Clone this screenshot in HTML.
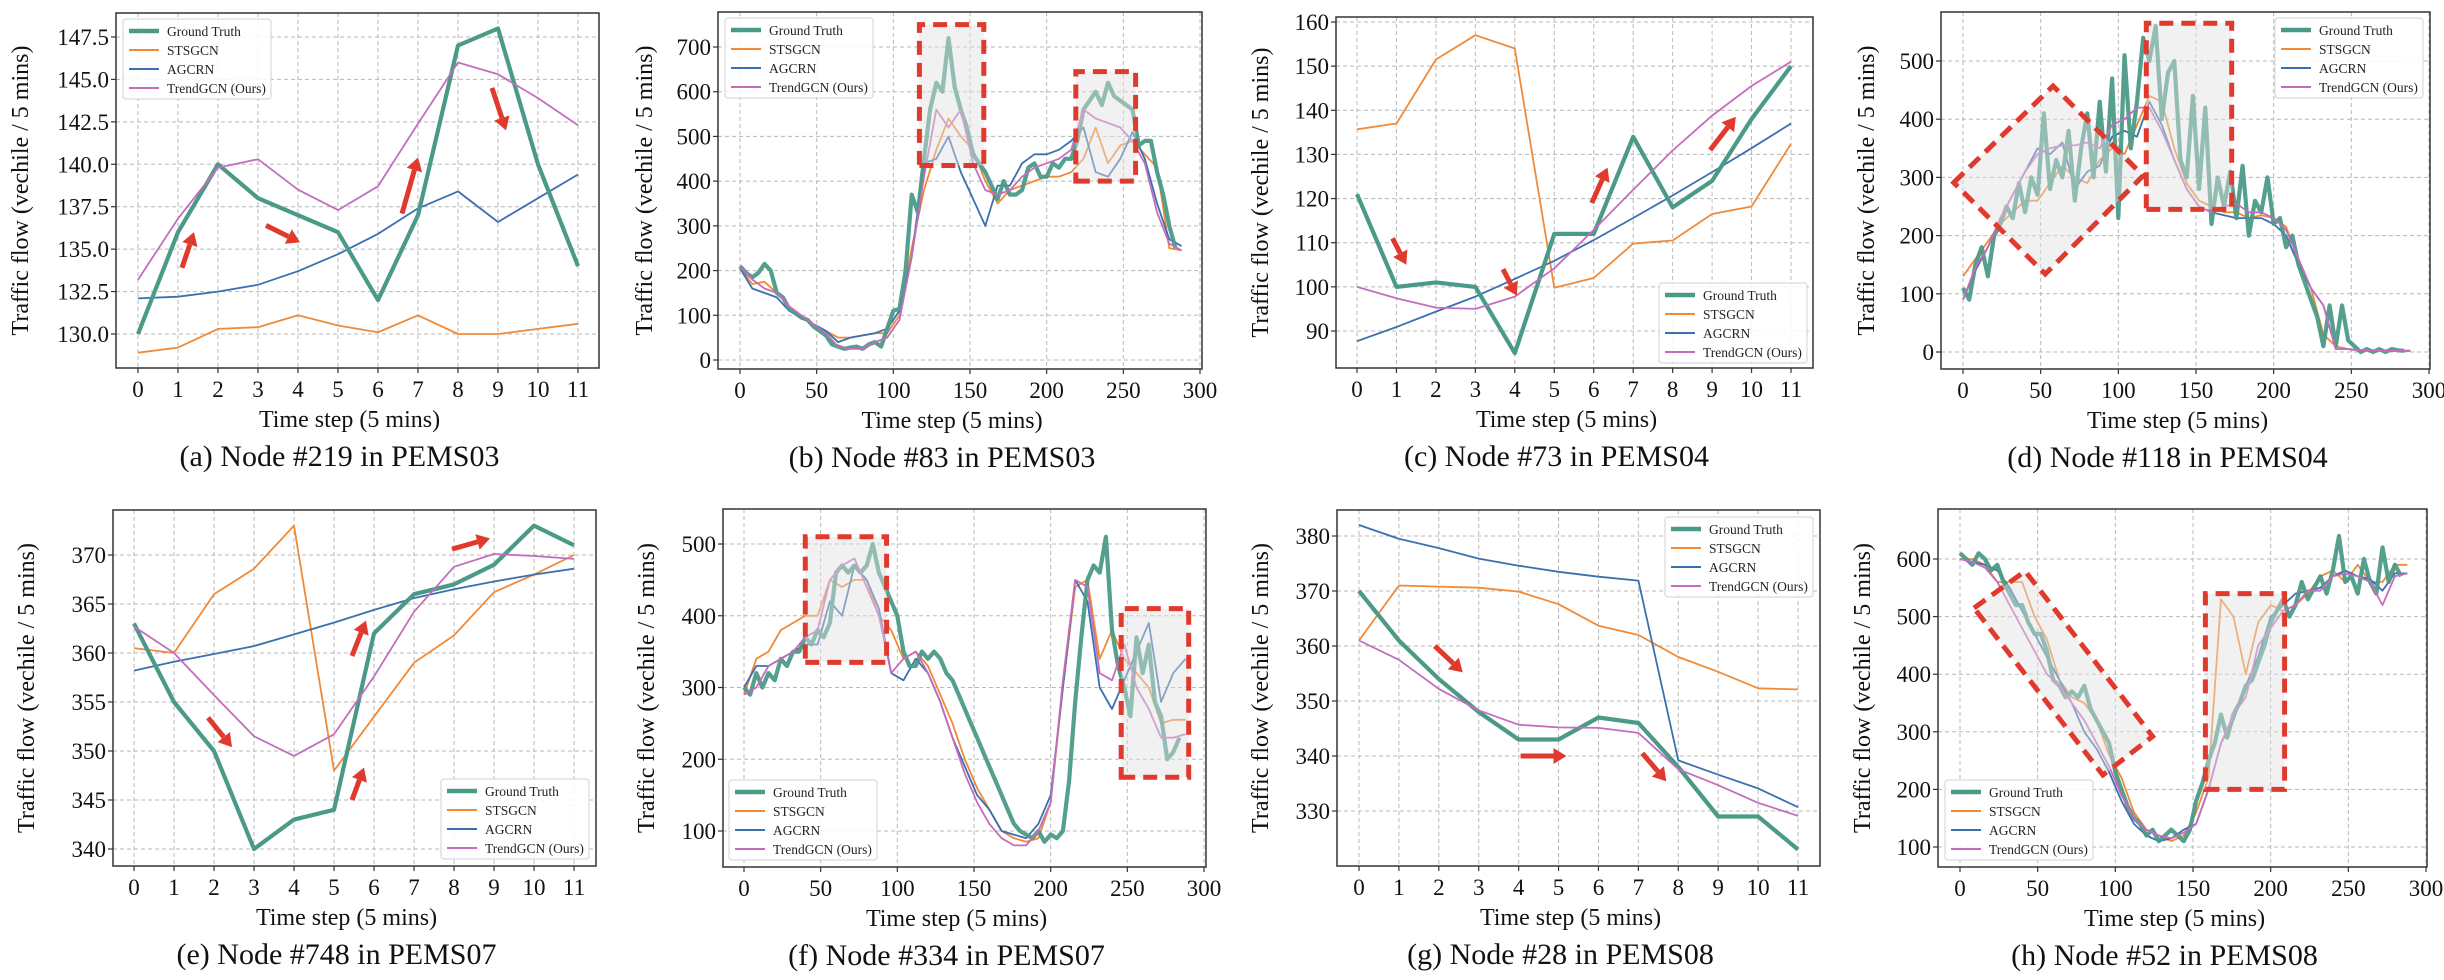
<!DOCTYPE html>
<html><head><meta charset="utf-8"><title>Traffic flow predictions</title>
<style>
html,body{margin:0;padding:0;background:#fff;}
svg{display:block;font-family:"Liberation Serif","DejaVu Serif",serif;}
</style></head>
<body>
<svg id="fig" width="2444" height="980" viewBox="0 0 2444 980" xmlns="http://www.w3.org/2000/svg"></svg>
<script>
// ---------- categories ----------
const steps12 = [0,1,2,3,4,5,6,7,8,9,10,11];
const step4 = Array.from({length:72},(_,i)=>i*4);
const step8 = Array.from({length:37},(_,i)=>i*8);

// ---------- (a) Node #219 PEMS03 ----------
const aGT = [130,136,140,138,137,136,132,137,147,148,140,134];
const aST = [128.9,129.2,130.3,130.4,131.1,130.5,130.1,131.1,130,130,130.3,130.6];
const aAG = [132.1,132.2,132.5,132.9,133.7,134.7,135.9,137.4,138.4,136.6,138,139.4];
const aTR = [133.2,136.8,139.8,140.3,138.5,137.3,138.7,142.4,146,145.3,143.9,142.3];
const aArrows = [[1.1,133.9,1.4,136.0],[3.2,136.4,4.05,135.4],[6.6,137.1,7.0,140.4],[8.85,144.5,9.2,142.0]];
const aYTicks = [130,132.5,135,137.5,140,142.5,145,147.5];

// ---------- (b) Node #83 PEMS03 ----------
const bGT = [210,195,185,195,215,200,150,140,115,105,95,90,75,65,55,35,30,25,28,30,25,35,40,30,70,110,115,200,370,330,450,560,620,600,720,610,560,520,460,440,420,390,360,400,370,370,380,430,440,410,410,440,430,450,450,490,560,580,600,570,620,590,580,570,560,480,490,490,420,370,300,250];
const bST = [205,170,175,150,120,100,80,65,50,50,55,60,60,100,250,380,470,540,500,470,400,350,380,390,400,410,410,420,450,520,440,480,490,460,430,250,245];
const bAG = [205,160,150,140,110,95,80,65,40,50,55,60,70,110,230,440,450,500,420,360,300,390,390,440,460,460,470,490,520,420,410,450,510,450,350,270,255];
const bTR = [210,180,160,150,120,100,80,60,30,25,25,40,50,90,230,410,560,520,560,440,380,370,380,410,430,440,450,470,560,540,530,520,490,440,330,260,245];
const bBoxes = [[[117,435],[159,435],[159,750],[117,750]],[[219,400],[258,400],[258,645],[219,645]]];
const bYTicks = [0,100,200,300,400,500,600,700];

// ---------- (c) Node #73 PEMS04 ----------
const cGT = [121,100,101,100,85,112,112,134,118,124,138,150];
const cST = [135.7,137,151.5,157,154,99.8,102,109.8,110.5,116.5,118.2,132.4];
const cAG = [87.7,90.9,94.4,97.8,101.8,105.9,110.6,115.6,120.7,126,131.4,137];
const cTR = [100,97.4,95.3,95,97.8,104.2,112.9,122,130.9,138.8,145.5,151];
const cArrows = [[0.9,111,1.25,105],[3.7,104,4.05,98],[5.95,119,6.35,127],[8.95,131,9.6,138.5]];
const cYTicks = [90,100,110,120,130,140,150,160];

// ---------- (d) Node #118 PEMS04 ----------
const dGT = [110,90,150,180,130,200,220,250,230,290,240,300,270,410,280,330,300,380,260,350,410,300,430,310,470,230,510,350,430,540,500,560,400,480,500,330,300,440,280,420,220,300,250,310,230,320,200,260,240,300,220,230,180,200,150,120,90,60,10,80,10,80,20,10,0,5,0,5,0,5,3,2];
const dST = [130,160,190,220,240,260,260,290,320,300,290,330,350,340,390,440,430,350,290,260,250,240,240,230,235,230,215,160,110,30,10,5,2,2,2,2,2];
const dAG = [90,140,180,230,270,310,350,340,360,280,310,320,370,380,370,430,390,330,280,250,240,235,230,230,230,220,200,150,110,80,5,5,3,3,2,2,2];
const dTR = [90,145,180,230,270,310,340,350,355,355,360,350,390,400,420,420,380,330,280,250,240,250,255,240,240,230,210,160,110,80,5,5,3,3,2,2,2];
const dBoxes = [[[-6,291],[58,457],[116,303],[53,134]],[[118,245],[173,245],[173,565],[118,565]]];
const dYTicks = [0,100,200,300,400,500];

// ---------- (e) Node #748 PEMS07 ----------
const eGT = [363,355,350,340,343,344,362,366,367,369,373,371];
const eST = [360.5,360,366,368.6,373,348,353.5,359,361.8,366.2,368,370];
const eAG = [358.2,359.1,359.9,360.7,361.9,363.1,364.4,365.6,366.5,367.3,368,368.6];
const eTR = [362.7,360,355.7,351.5,349.5,351.7,357.6,364.2,368.8,370.1,369.9,369.6];
const eArrows = [[1.85,353.4,2.45,350.4],[5.45,345,5.75,348.3],[5.45,359.7,5.8,363.3],[7.95,370.6,8.9,371.7]];
const eYTicks = [340,345,350,355,360,365,370];

// ---------- (f) Node #334 PEMS07 ----------
const fGT = [300,290,320,300,320,310,340,330,350,350,370,360,380,370,390,460,470,460,470,460,470,500,460,440,420,400,350,330,330,350,340,350,340,320,310,290,270,250,230,210,190,170,150,130,110,100,95,90,100,85,95,90,100,170,280,370,450,470,460,510,380,330,300,260,370,320,360,280,260,200,210,230];
const fST = [290,340,350,380,390,400,400,450,440,450,450,400,380,340,350,330,290,250,200,160,130,100,90,85,90,140,300,440,450,340,380,340,320,300,250,255,255];
const fAG = [300,330,330,340,350,360,360,420,400,470,450,410,320,310,340,320,280,230,190,150,130,100,95,90,110,150,300,450,420,300,270,310,350,390,280,320,340];
const fTR = [290,300,330,340,350,370,380,450,470,480,440,400,320,340,350,320,280,230,180,140,110,90,80,80,100,140,310,450,440,320,310,360,300,270,230,230,235];
const fBoxes = [[[40,335],[93,335],[93,510],[40,510]],[[246,175],[290,175],[290,410],[246,410]]];
const fYTicks = [100,200,300,400,500];

// ---------- (g) Node #28 PEMS08 ----------
const gGT = [370,361,354,348,343,343,347,346,338,329,329,323];
const gST = [361,371,370.8,370.6,369.9,367.6,363.7,362,358,355.3,352.3,352.1];
const gAG = [382,379.5,377.8,375.9,374.6,373.5,372.6,371.9,339.2,336.6,334.1,330.7];
const gTR = [361,357.5,352.2,348.3,345.7,345.2,345.1,344.2,337.6,334.7,331.5,329.1];
const gArrows = [[1.9,360,2.6,355.2],[4.05,340,5.2,340],[7.1,340.5,7.7,335.4]];
const gYTicks = [330,340,350,360,370,380];

// ---------- (h) Node #52 PEMS08 ----------
const hGT = [610,600,590,610,600,580,590,560,540,520,520,490,470,470,440,390,380,360,370,360,380,340,320,300,280,230,200,170,150,140,120,130,110,120,130,120,110,130,180,210,250,280,330,290,330,350,380,390,420,450,490,510,530,500,520,560,530,550,570,540,580,640,560,570,540,600,560,540,620,560,590,570];
const hST = [600,600,590,560,560,560,500,460,390,360,350,320,260,220,160,130,120,110,120,160,220,530,500,400,490,520,510,520,540,570,580,560,590,560,560,590,590];
const hAG = [600,595,590,580,550,510,470,430,390,350,300,270,230,180,140,120,110,115,130,140,200,280,320,380,430,500,520,540,545,550,570,580,570,565,545,575,575];
const hTR = [600,595,585,560,520,480,440,400,380,350,320,280,240,190,150,130,120,115,125,140,200,280,330,360,450,480,510,520,545,545,570,575,570,560,520,570,575];
const hBoxes = [[[9,515],[42,579],[124,292],[92,225]],[[158,200],[209,200],[209,540],[158,540]]];
const hYTicks = [100,200,300,400,500,600];

const stepTicks = [0,1,2,3,4,5,6,7,8,9,10,11];
const flowTicks = [0,50,100,150,200,250,300];

// ---------- drawing ----------
const NS = "http://www.w3.org/2000/svg";
const fig = document.getElementById('fig');
const C = {gt:'#4b9a88', st:'#f08a37', ag:'#3b70b0', tr:'#c56dbd', red:'#e0392d'};
function mk(tag, attrs, parent){
  const e = document.createElementNS(NS, tag);
  for (const k in attrs) e.setAttribute(k, attrs[k]);
  (parent||fig).appendChild(e);
  return e;
}
let clipId = 0;
function panel(p){
  const g = mk('g', {});
  
  
  const sx = v => p.x0 + (v - p.xv0) * (p.x1 - p.x0) / (p.xv1 - p.xv0);
  const sy = v => p.y0 + (v - p.yv0) * (p.y1 - p.y0) / (p.yv1 - p.yv0);
  // grid
  const grid = mk('g', {stroke:'#b8b8b8','stroke-width':1,'stroke-dasharray':'4,3'}, g);
  
  
  p.xticks.forEach(v => mk('line', {x1:sx(v), x2:sx(v), y1:p.T, y2:p.B}, grid));
  p.yticks.forEach(v => mk('line', {x1:p.L, x2:p.R, y1:sy(v), y2:sy(v)}, grid));
  // clip
  const cid = 'clip' + (clipId++);
  const cp = mk('clipPath', {id:cid}, g);
  mk('rect', {x:p.L, y:p.T, width:p.R-p.L, height:p.B-p.T}, cp);
  const plot = mk('g', {'clip-path':'url(#'+cid+')'}, g);
  // series
  p.series.forEach(s => {
    const pts = s.y.map((v,i) => sx(s.x[i]).toFixed(1) + ',' + sy(v).toFixed(1)).join(' ');
    const pl = mk('polyline', {points:pts, fill:'none', stroke:s.c, 'stroke-width':s.w, 'stroke-linejoin':'round', 'stroke-opacity':s.o||1}, plot);
    
    
  });
  // highlight boxes
  (p.boxes||[]).forEach((b,i) => {
    const pts = b.map(q => sx(q[0]).toFixed(1) + ',' + sy(q[1]).toFixed(1)).join(' ');
    const pg = mk('polygon', {points:pts, fill:'rgba(225,225,225,0.45)', stroke:C.red, 'stroke-width':5, 'stroke-dasharray':'14,8'}, g);
    
    
  });
  // arrows
  (p.arrows||[]).forEach((a,i) => {
    const x1 = sx(a[0]), y1 = sy(a[1]), x2 = sx(a[2]), y2 = sy(a[3]);
    const ang = Math.atan2(y2-y1, x2-x1);
    const hl = 13, hw = 8;
    const bx = x2 - hl*Math.cos(ang), by = y2 - hl*Math.sin(ang);
    const ag = mk('g', {}, g);
    
    
    mk('line', {x1:x1, y1:y1, x2:bx, y2:by, stroke:C.red, 'stroke-width':5}, ag);
    const px = -Math.sin(ang)*hw, py = Math.cos(ang)*hw;
    mk('polygon', {points:`${x2},${y2} ${bx+px},${by+py} ${bx-px},${by-py}`, fill:C.red}, ag);
  });
  // frame
  const fr = mk('rect', {x:p.L, y:p.T, width:p.R-p.L, height:p.B-p.T, fill:'none', stroke:'#333', 'stroke-width':1.5}, g);
  
  
  // tick marks + labels
  const xt = mk('g', {'font-size':23, 'text-anchor':'middle', fill:'#111'}, g);
  
  
  p.xticks.forEach(v => {
    mk('line', {x1:sx(v), x2:sx(v), y1:p.B, y2:p.B+5, stroke:'#333', 'stroke-width':1.2}, xt);
    const t = mk('text', {x:sx(v), y:p.B+29}, xt); t.textContent = v;
  });
  const yt = mk('g', {'font-size':23, 'text-anchor':'end', fill:'#111'}, g);
  
  
  p.yticks.forEach(v => {
    mk('line', {x1:p.L-5, x2:p.L, y1:sy(v), y2:sy(v), stroke:'#333', 'stroke-width':1.2}, yt);
    const t = mk('text', {x:p.L-7, y:sy(v)+8}, yt); t.textContent = p.yfmt ? p.yfmt(v) : v;
  });
  // axis titles
  const cx = (p.L + p.R)/2 - 8;
  const xl = mk('text', {x:cx, y:p.B+59, 'font-size':24, 'text-anchor':'middle', fill:'#111'}, g);
  xl.textContent = 'Time step (5 mins)';
  
  
  const cy = (p.T + p.B)/2;
  const yl = mk('text', {x:p.ylx, y:cy, 'font-size':24, 'text-anchor':'middle', fill:'#111', transform:`rotate(-90 ${p.ylx} ${cy})`, dy:8}, g);
  yl.textContent = 'Traffic flow (vechile / 5 mins)';
  
  
  const cap = mk('text', {x:cx - 10, y:p.B+98, 'font-size':30, 'text-anchor':'middle', fill:'#111'}, g);
  cap.textContent = p.caption;
  
  
  // legend
  const lg = mk('g', {}, g);
  
  
  mk('rect', {x:p.lx, y:p.ly, width:148, height:80, rx:3, fill:'rgba(255,255,255,0.85)', stroke:'#d0d0d0', 'stroke-width':1}, lg);
  const names = ['Ground Truth','STSGCN','AGCRN','TrendGCN (Ours)'];
  const cols = [C.gt, C.st, C.ag, C.tr];
  names.forEach((n,i) => {
    const ey = p.ly + 12 + i*19;
    const ent = mk('g', {}, lg);
    
    
    mk('line', {x1:p.lx+6, x2:p.lx+36, y1:ey, y2:ey, stroke:cols[i], 'stroke-width': i===0?4.5:2}, ent);
    const t = mk('text', {x:p.lx+44, y:ey+5, 'font-size':13.5, fill:'#222'}, ent);
    t.textContent = n;
  });
}
function S(x, gt, st, ag, tr){
  return [
    {name:'stsgcn', x:x.st, y:st, c:C.st, w:1.8},
    {name:'agcrn', x:x.ag, y:ag, c:C.ag, w:1.8},
    {name:'ground-truth', x:x.gt, y:gt, c:C.gt, w:4.2, o:x.noisy?0.95:1},
    {name:'trendgcn', x:x.ag, y:tr, c:C.tr, w:1.8}
  ];
}
const short = {gt:steps12, st:steps12, ag:steps12};
const long = {gt:step4, st:step8, ag:step8, noisy:true};
const panels = [
  {id:'a', L:116,R:599,T:13,B:368, x0:138,x1:578,xv0:0,xv1:11, y0:334,y1:37,yv0:130,yv1:147.5,
   xticks:stepTicks, yticks:aYTicks, yfmt:v=>v.toFixed(1), series:S(short,aGT,aST,aAG,aTR), arrows:aArrows,
   caption:'(a) Node #219 in PEMS03', ylx:20, lx:123, ly:19},
  {id:'b', L:718,R:1202,T:12,B:369, x0:740,x1:1200,xv0:0,xv1:300, y0:360,y1:47,yv0:0,yv1:700,
   xticks:flowTicks, yticks:bYTicks, series:S(long,bGT,bST,bAG,bTR), boxes:bBoxes,
   caption:'(b) Node #83 in PEMS03', ylx:644, lx:725, ly:18},
  {id:'c', L:1336,R:1813,T:17,B:368, x0:1357,x1:1791,xv0:0,xv1:11, y0:331,y1:22,yv0:90,yv1:160,
   xticks:stepTicks, yticks:cYTicks, series:S(short,cGT,cST,cAG,cTR), arrows:cArrows,
   caption:'(c) Node #73 in PEMS04', ylx:1260, lx:1659, ly:283},
  {id:'d', L:1941,R:2430,T:12,B:369, x0:1963,x1:2429,xv0:0,xv1:300, y0:352,y1:61,yv0:0,yv1:500,
   xticks:flowTicks, yticks:dYTicks, series:S(long,dGT,dST,dAG,dTR), boxes:dBoxes,
   caption:'(d) Node #118 in PEMS04', ylx:1866, lx:2275, ly:18},
  {id:'e', L:113,R:596,T:510,B:866, x0:134,x1:574,xv0:0,xv1:11, y0:849,y1:555,yv0:340,yv1:370,
   xticks:stepTicks, yticks:eYTicks, series:S(short,eGT,eST,eAG,eTR), arrows:eArrows,
   caption:'(e) Node #748 in PEMS07', ylx:26, lx:441, ly:779},
  {id:'f', L:723,R:1206,T:509,B:867, x0:744,x1:1204,xv0:0,xv1:300, y0:831,y1:544,yv0:100,yv1:500,
   xticks:flowTicks, yticks:fYTicks, series:S(long,fGT,fST,fAG,fTR), boxes:fBoxes,
   caption:'(f) Node #334 in PEMS07', ylx:646, lx:729, ly:780},
  {id:'g', L:1337,R:1820,T:510,B:866, x0:1359,x1:1798,xv0:0,xv1:11, y0:811,y1:536,yv0:330,yv1:380,
   xticks:stepTicks, yticks:gYTicks, series:S(short,gGT,gST,gAG,gTR), arrows:gArrows,
   caption:'(g) Node #28 in PEMS08', ylx:1260, lx:1665, ly:517},
  {id:'h', L:1938,R:2427,T:509,B:867, x0:1960,x1:2426,xv0:0,xv1:300, y0:847,y1:559,yv0:100,yv1:600,
   xticks:flowTicks, yticks:hYTicks, series:S(long,hGT,hST,hAG,hTR), boxes:hBoxes,
   caption:'(h) Node #52 in PEMS08', ylx:1862, lx:1945, ly:780}
];
panels.forEach(panel);
</script>
</body></html>
